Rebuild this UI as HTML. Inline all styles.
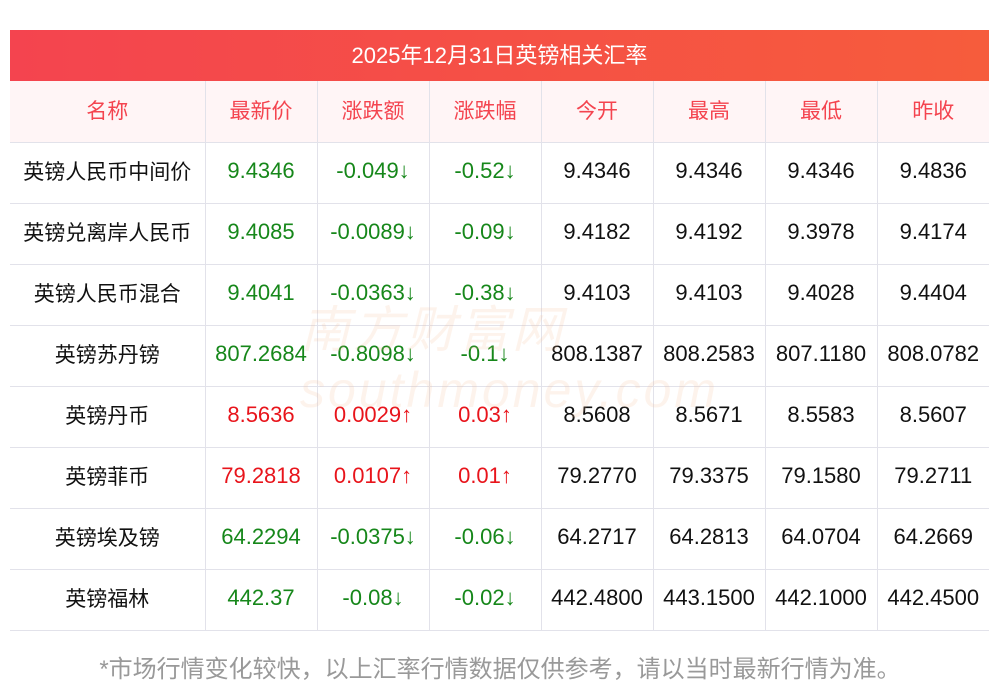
<!DOCTYPE html>
<html><head><meta charset="utf-8"><style>
body{margin:0;width:1000px;height:697px;background:#fff;font-family:"Liberation Sans","Noto Sans CJK SC",sans-serif;position:relative;overflow:hidden}
.title{position:absolute;left:10px;top:30px;width:979px;height:52px;background:linear-gradient(90deg,#f4444f,#f65c3c);color:#fff;font-size:22px;line-height:52px;text-align:center}
table{position:absolute;left:10px;top:81px;width:979px;border-collapse:collapse;table-layout:fixed}
td{border-bottom:1px solid #e2e2ea;border-left:1px solid #e2e2ea;text-align:center;font-size:22px;height:61px;line-height:24px;padding:0 0 4px 0;color:#111;white-space:nowrap;box-sizing:border-box}
td:first-child{border-left:none}
.c{font-family:"Noto Sans CJK SC",sans-serif;font-size:21px;line-height:24px;display:inline-block;position:relative;top:1px}
tr.h td{background:#fff5f6;color:#f4444f}
.g{color:#16871a}.r{color:#e8141b}
.foot{position:absolute;left:0;width:1000px;top:649px;text-align:center;color:#999;font-size:24px}
.wm{position:absolute;left:300px;top:300px;font-size:50px;color:rgba(245,190,150,0.18);font-style:italic;letter-spacing:3px;line-height:60px}
</style></head><body>
<div class="title">2025年12月31日英镑相关汇率</div>
<table>
<colgroup><col style="width:195px"><col style="width:112px"><col style="width:112px"><col style="width:112px"><col style="width:112px"><col style="width:112px"><col style="width:112px"><col style="width:112px"></colgroup>
<tr class="h"><td><span class="c">名称</span></td><td><span class="c">最新价</span></td><td><span class="c">涨跌额</span></td><td><span class="c">涨跌幅</span></td><td><span class="c">今开</span></td><td><span class="c">最高</span></td><td><span class="c">最低</span></td><td><span class="c">昨收</span></td></tr>
<tr><td><span class="c">英镑人民币中间价</span></td><td class="g">9.4346</td><td class="g">-0.049↓</td><td class="g">-0.52↓</td><td>9.4346</td><td>9.4346</td><td>9.4346</td><td>9.4836</td></tr>
<tr><td><span class="c">英镑兑离岸人民币</span></td><td class="g">9.4085</td><td class="g">-0.0089↓</td><td class="g">-0.09↓</td><td>9.4182</td><td>9.4192</td><td>9.3978</td><td>9.4174</td></tr>
<tr><td><span class="c">英镑人民币混合</span></td><td class="g">9.4041</td><td class="g">-0.0363↓</td><td class="g">-0.38↓</td><td>9.4103</td><td>9.4103</td><td>9.4028</td><td>9.4404</td></tr>
<tr><td><span class="c">英镑苏丹镑</span></td><td class="g">807.2684</td><td class="g">-0.8098↓</td><td class="g">-0.1↓</td><td>808.1387</td><td>808.2583</td><td>807.1180</td><td>808.0782</td></tr>
<tr><td><span class="c">英镑丹币</span></td><td class="r">8.5636</td><td class="r">0.0029↑</td><td class="r">0.03↑</td><td>8.5608</td><td>8.5671</td><td>8.5583</td><td>8.5607</td></tr>
<tr><td><span class="c">英镑菲币</span></td><td class="r">79.2818</td><td class="r">0.0107↑</td><td class="r">0.01↑</td><td>79.2770</td><td>79.3375</td><td>79.1580</td><td>79.2711</td></tr>
<tr><td><span class="c">英镑埃及镑</span></td><td class="g">64.2294</td><td class="g">-0.0375↓</td><td class="g">-0.06↓</td><td>64.2717</td><td>64.2813</td><td>64.0704</td><td>64.2669</td></tr>
<tr><td><span class="c">英镑福林</span></td><td class="g">442.37</td><td class="g">-0.08↓</td><td class="g">-0.02↓</td><td>442.4800</td><td>443.1500</td><td>442.1000</td><td>442.4500</td></tr>
</table>
<div class="wm">南方财富网<br>southmoney.com</div>
<div class="foot">*市场行情变化较快，以上汇率行情数据仅供参考，请以当时最新行情为准。</div>
</body></html>
